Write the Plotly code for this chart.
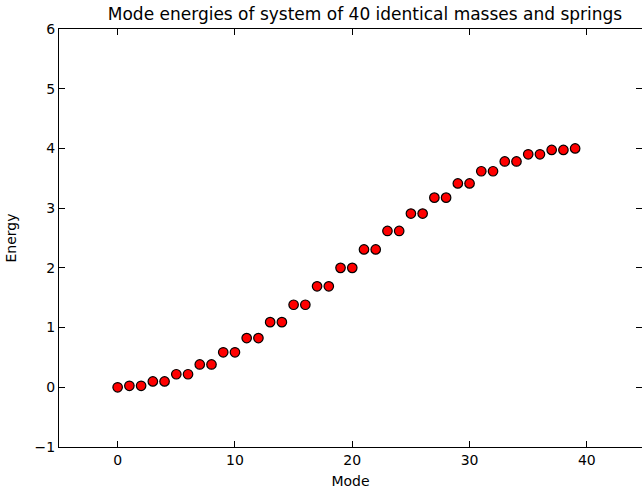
import plotly.graph_objects as go

modes = list(range(40))
energies = [0.000, 0.025, 0.025, 0.098, 0.098, 0.218, 0.218, 0.382, 0.382,
            0.586, 0.586, 0.824, 0.824, 1.091, 1.091, 1.382, 1.382, 1.691,
            1.691, 2.000, 2.000, 2.309, 2.309, 2.618, 2.618, 2.909, 2.909,
            3.176, 3.176, 3.414, 3.414, 3.618, 3.618, 3.782, 3.782, 3.902,
            3.902, 3.975, 3.975, 4.000]
x_ticks = [0, 10, 20, 30, 40]
y_ticks = [-1, 0, 1, 2, 3, 4, 5, 6]
title = "Mode energies of system of 40 identical masses and springs"

W, H = 642, 493
L, R, T, B = 59, 0, 29, 46
FONT = "DejaVu Sans"

fig = go.Figure()
fig.add_trace(go.Scatter(
    x=modes, y=energies, mode="markers",
    marker=dict(color="#ff0000", size=9.5, line=dict(color="#000000", width=1.2)),
    showlegend=False, hoverinfo="skip"))
fig.add_trace(go.Scatter(x=[], y=[], yaxis="y2", showlegend=False))

axis_common = dict(ticks="inside", ticklen=6, tickwidth=1, tickcolor="black",
                   showgrid=False, zeroline=False, automargin=False,
                   tickfont=dict(family=FONT, size=14, color="black"))

fig.update_layout(
    width=W, height=H,
    margin=dict(l=L, r=R, t=T, b=B, pad=0, autoexpand=False),
    paper_bgcolor="white", plot_bgcolor="white",
    font=dict(family=FONT, color="black"),
    title=dict(text=title, font=dict(family=FONT, size=17, color="black"),
               x=365 / W, xanchor="center", xref="container",
               y=1 - 14 / H, yanchor="middle", yref="container"),
    xaxis=dict(range=[-5, 44.7], tickvals=x_ticks, showline=True, linecolor="black",
               linewidth=1, mirror="ticks",
               title=dict(text="Mode", font=dict(family=FONT, size=14), standoff=9),
               **axis_common),
    yaxis=dict(range=[-1, 6], tickvals=y_ticks, showline=True, linecolor="black",
               linewidth=1,
               title=dict(text="Energy", font=dict(family=FONT, size=14), standoff=14),
               **axis_common),
    yaxis2=dict(range=[-1, 6], tickvals=y_ticks, overlaying="y", side="right",
                showline=False, showticklabels=False, **axis_common),
)

fig.write_html(
    "out.html",
    config={"responsive": False, "displayModeBar": False},
    post_script="document.body.style.margin='0';"
                "document.documentElement.style.overflow='hidden';"
                "document.body.style.overflow='hidden';",
)
